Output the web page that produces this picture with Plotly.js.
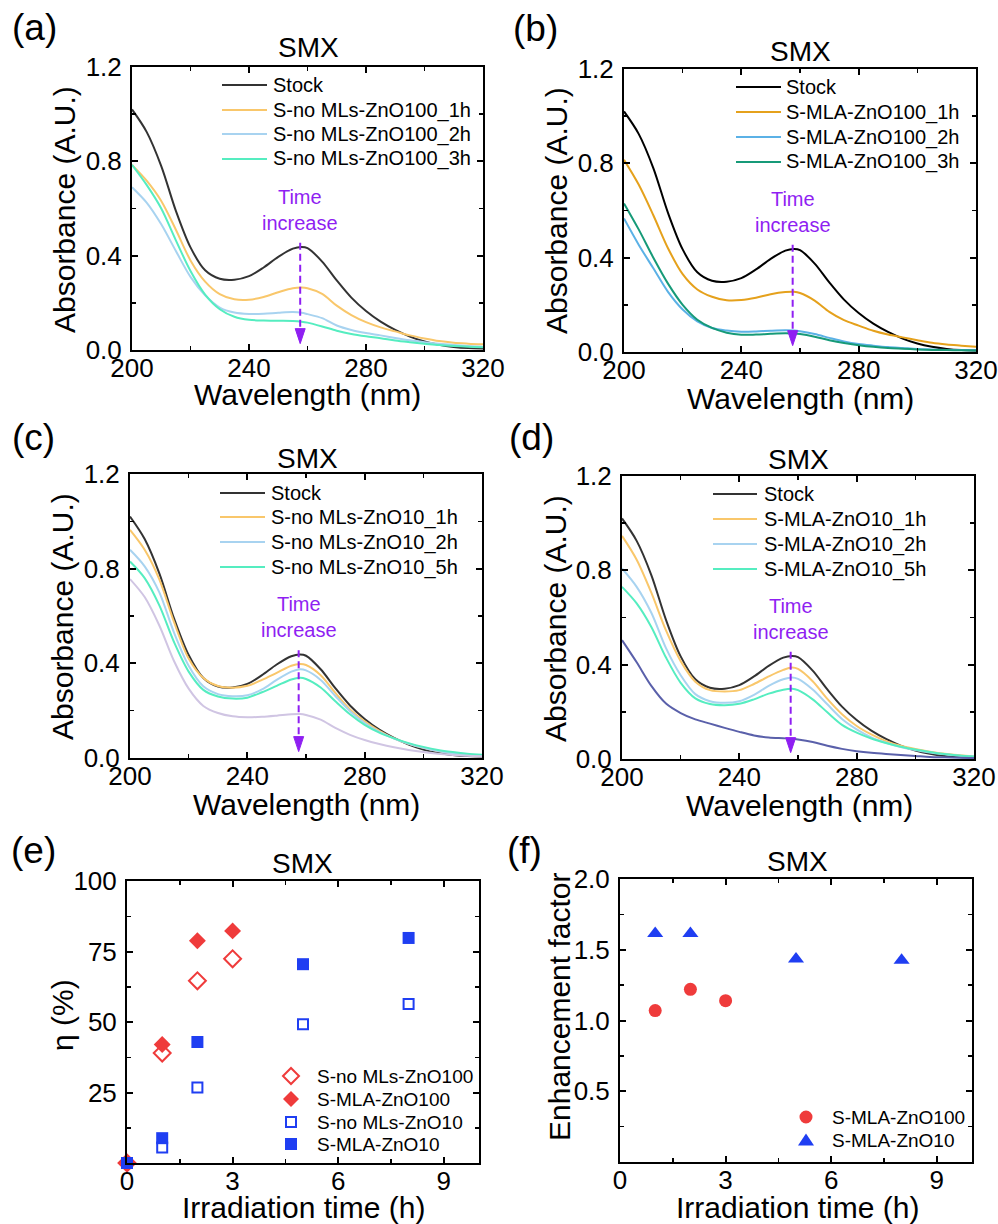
<!DOCTYPE html>
<html>
<head>
<meta charset="utf-8">
<script src="https://cdn.plot.ly/plotly-3.0.1.min.js"></script>
<style>
html,body{margin:0;padding:0;background:#ffffff;}
#chart{width:998px;height:1224px;}
</style>
</head>
<body>
<div id="chart"></div>
<script>
// ---------------- DATA ----------------
const wavelength = [200,205,210,215,220,225,230,235,240,245,250,255,258,260,265,270,275,280,285,290,295,300,305,310,315,320];

const stock = [1.02,0.925,0.78,0.59,0.435,0.338,0.302,0.298,0.313,0.35,0.395,0.43,0.437,0.432,0.375,0.295,0.222,0.165,0.12,0.085,0.057,0.036,0.022,0.013,0.008,0.006];

// (a) S-no MLs-ZnO100
const a1h = [0.785,0.718,0.632,0.51,0.38,0.29,0.237,0.215,0.213,0.225,0.245,0.262,0.265,0.262,0.238,0.188,0.148,0.118,0.096,0.079,0.062,0.049,0.038,0.031,0.027,0.024];
const a2h = [0.69,0.625,0.533,0.42,0.31,0.232,0.18,0.159,0.153,0.154,0.158,0.161,0.158,0.152,0.135,0.104,0.085,0.072,0.062,0.051,0.041,0.033,0.026,0.021,0.017,0.014];
const a3h = [0.785,0.70,0.60,0.465,0.335,0.235,0.173,0.141,0.128,0.125,0.124,0.123,0.12,0.116,0.1,0.082,0.068,0.058,0.05,0.04,0.033,0.027,0.021,0.017,0.014,0.012];

// (b) S-MLA-ZnO100
const b1h = [0.815,0.71,0.58,0.44,0.33,0.265,0.234,0.219,0.22,0.23,0.245,0.254,0.255,0.25,0.218,0.17,0.135,0.112,0.09,0.074,0.062,0.05,0.039,0.032,0.027,0.022];
const b2h = [0.566,0.455,0.355,0.255,0.18,0.13,0.102,0.091,0.086,0.087,0.09,0.092,0.091,0.088,0.076,0.06,0.045,0.034,0.027,0.021,0.017,0.013,0.011,0.009,0.008,0.007];
const b3h = [0.63,0.52,0.40,0.29,0.2,0.137,0.102,0.082,0.073,0.074,0.077,0.079,0.078,0.076,0.065,0.05,0.038,0.029,0.022,0.017,0.014,0.011,0.009,0.008,0.007,0.006];

// (c) S-no MLs-ZnO10
const c1h = [0.964,0.88,0.755,0.575,0.42,0.338,0.304,0.297,0.305,0.33,0.36,0.39,0.397,0.393,0.35,0.275,0.205,0.155,0.115,0.083,0.06,0.043,0.03,0.021,0.015,0.011];
const c2h = [0.88,0.81,0.70,0.53,0.39,0.303,0.27,0.261,0.265,0.29,0.33,0.365,0.375,0.37,0.33,0.262,0.198,0.148,0.11,0.082,0.06,0.043,0.029,0.019,0.012,0.008];
const c5h = [0.83,0.76,0.645,0.49,0.365,0.288,0.26,0.251,0.255,0.278,0.305,0.332,0.339,0.334,0.298,0.24,0.185,0.14,0.107,0.083,0.063,0.047,0.034,0.025,0.018,0.014];
const cExtra = [0.756,0.68,0.56,0.41,0.293,0.22,0.19,0.176,0.172,0.174,0.179,0.185,0.186,0.182,0.162,0.127,0.098,0.076,0.059,0.045,0.034,0.025,0.018,0.013,0.009,0.007];

// (d) S-MLA-ZnO10
const d1h = [0.946,0.845,0.705,0.545,0.415,0.328,0.292,0.286,0.292,0.318,0.35,0.378,0.388,0.382,0.33,0.255,0.19,0.14,0.104,0.076,0.056,0.042,0.031,0.022,0.016,0.011];
const d2h = [0.808,0.73,0.62,0.47,0.355,0.275,0.245,0.238,0.245,0.272,0.31,0.338,0.346,0.34,0.295,0.232,0.17,0.126,0.092,0.069,0.051,0.038,0.028,0.02,0.014,0.011];
const d5h = [0.73,0.66,0.56,0.43,0.323,0.257,0.233,0.228,0.234,0.253,0.277,0.294,0.298,0.292,0.253,0.198,0.145,0.112,0.087,0.068,0.052,0.04,0.03,0.021,0.015,0.011];
const dExtra = [0.504,0.41,0.31,0.235,0.195,0.168,0.15,0.132,0.115,0.1,0.091,0.088,0.086,0.083,0.072,0.056,0.043,0.033,0.026,0.021,0.017,0.013,0.009,0.007,0.005,0.004];

const aNames = ['Stock','S-no MLs-ZnO100_1h','S-no MLs-ZnO100_2h','S-no MLs-ZnO100_3h'];
const bNames = ['Stock','S-MLA-ZnO100_1h','S-MLA-ZnO100_2h','S-MLA-ZnO100_3h'];
const cNames = ['Stock','S-no MLs-ZnO10_1h','S-no MLs-ZnO10_2h','S-no MLs-ZnO10_5h'];
const dNames = ['Stock','S-MLA-ZnO10_1h','S-MLA-ZnO10_2h','S-MLA-ZnO10_5h'];

// (e) removal efficiency
const timeZnO100 = [0,1,2,3];
const timeZnO10 = [0,1,2,5,8];
const etaNoML100 = [0,39.0,64.6,72.4];
const etaMLA100 = [0,42.0,78.8,82.3];
const etaNoML10 = [0,5.5,26.8,49.2,56.4];
const etaMLA10 = [0,8.8,42.9,70.5,79.8];
const eNames = ['S-no MLs-ZnO100','S-MLA-ZnO100','S-no MLs-ZnO10','S-MLA-ZnO10'];

// (f) enhancement factor
const efTime100 = [1,2,3];
const efTime10 = [1,2,5,8];
const ef100 = [1.07,1.22,1.14];
const ef10 = [1.615,1.615,1.435,1.425];
const fNames = ['S-MLA-ZnO100','S-MLA-ZnO10'];

// tick labels
const wlTicks = [200,240,280,320];
const wlMinor = [220,260,300];
const absTicks = [0,0.4,0.8,1.2];
const absTickText = ['0.0','0.4','0.8','1.2'];
const absMinor = [0.2,0.6,1.0];
const timeTicks = [0,3,6,9];
const timeMinor = [1.5,4.5,7.5];
const etaTicks = [25,50,75,100];
const etaMinor = [12.5,37.5,62.5,87.5];
const efTicks = [0.5,1.0,1.5,2.0];
const efTickText = ['0.5','1.0','1.5','2.0'];
const efMinor = [0.25,0.75,1.25,1.75];

// ---------------- STYLE / LAYOUT ----------------
const W = 998, H = 1224;
const PX = x => x / W;
const PY = y => 1 - y / H;
const FONT = 'Liberation Sans, Arial, Helvetica, sans-serif';
const TICKFONT = {family: FONT, size: 26, color: '#000'};
const PURPLE = '#8f1ff2';
const RED = '#ef3b3b';
const BLUE = '#1f3ef2';
const DARK = '#333333';
const colA = [DARK,'#f9c76b','#a8d3f0','#55edc0'];
const colB = ['#000000','#e5a11c','#5bb1e6','#169a78'];
const colC = [DARK,'#f9c76b','#a8d3f0','#55edc0','#d0c5e3'];
const colD = [DARK,'#f9c76b','#a8d3f0','#55edc0','#5a60aa'];

function axisBase(domPx, isY) {
  const d = isY ? [PY(domPx[1]), PY(domPx[0])] : [PX(domPx[0]), PX(domPx[1])];
  return {
    domain: d, showline: true, linewidth: 2, linecolor: '#000', mirror: 'ticks',
    ticks: 'inside', ticklen: 6, tickwidth: 2, tickcolor: '#000',
    showgrid: false, zeroline: false, tickfont: TICKFONT, fixedrange: true,
    ticklabelstandoff: isY ? 3 : -6
  };
}
function withTicks(ax, range, vals, text, minor) {
  ax.range = range; ax.tickmode = 'array'; ax.tickvals = vals;
  if (text) ax.ticktext = text;
  ax.minor = {tickmode: 'array', tickvals: minor, ticks: 'inside', ticklen: 4, tickwidth: 1.5, tickcolor: '#000', showgrid: false};
  return ax;
}

const panels = [
  {id: '', x: [132,483], y: [67,350]},
  {id: '2', x: [624,976], y: [69,352]},
  {id: '3', x: [130,482], y: [474,758]},
  {id: '4', x: [622,974], y: [476,759]},
  {id: '5', x: [127,479], y: [881,1163]},
  {id: '6', x: [620,972], y: [879,1162]}
];

const layout = {
  width: W, height: H, margin: {l: 0, r: 0, t: 0, b: 0},
  paper_bgcolor: '#fff', plot_bgcolor: '#fff', showlegend: false,
  font: {family: FONT, color: '#000'},
  shapes: [], annotations: []
};

panels.forEach((p, i) => {
  const xk = 'xaxis' + p.id, yk = 'yaxis' + p.id;
  const xa = axisBase(p.x, false), ya = axisBase(p.y, true);
  xa.anchor = 'y' + p.id; ya.anchor = 'x' + p.id;
  if (i < 4) {
    withTicks(xa, [200,320], wlTicks, null, wlMinor);
    withTicks(ya, [0,1.2], absTicks, absTickText, absMinor);
  } else if (i === 4) {
    withTicks(xa, [0,10], timeTicks, null, timeMinor);
    withTicks(ya, [0,100], etaTicks, null, etaMinor);
  } else {
    withTicks(xa, [0,10], timeTicks, null, timeMinor);
    withTicks(ya, [0,2], efTicks, efTickText, efMinor);
  }
  layout[xk] = xa; layout[yk] = ya;
});

const traces = [];
function addLines(id, series, colors) {
  series.forEach((s, i) => traces.push({
    type: 'scatter', mode: 'lines', x: wavelength, y: s,
    xaxis: 'x' + id, yaxis: 'y' + id, hoverinfo: 'skip',
    line: {color: colors[i], width: 2, shape: 'spline', smoothing: 0.9}
  }));
}
addLines('', [stock,a1h,a2h,a3h], colA);
addLines('2', [stock,b1h,b2h,b3h], colB);
addLines('3', [stock,c1h,c2h,c5h,cExtra], colC);
addLines('4', [stock,d1h,d2h,d5h,dExtra], colD);

function addPts(id, x, y, symbol, color, size, open) {
  traces.push({
    type: 'scatter', mode: 'markers', x: x, y: y, xaxis: 'x' + id, yaxis: 'y' + id,
    cliponaxis: false, hoverinfo: 'skip',
    marker: {symbol: symbol, size: size, color: open ? 'rgba(0,0,0,0)' : color,
             line: {color: color, width: open ? 2 : 0}}
  });
}
addPts('5', timeZnO100, etaNoML100, 'diamond', RED, 13, true);
addPts('5', timeZnO100, etaMLA100, 'diamond', RED, 13, false);
addPts('5', timeZnO10, etaNoML10, 'square', BLUE, 10, true);
addPts('5', timeZnO10, etaMLA10, 'square', BLUE, 12, false);
addPts('6', efTime100, ef100, 'circle', RED, 13, false);
addPts('6', efTime10, ef10, 'triangle-up', BLUE, 14, false);

// ---------- text helpers ----------
function txt(text, xpx, ypx, size, opts) {
  layout.annotations.push(Object.assign({
    text: text, xref: 'paper', yref: 'paper', x: PX(xpx), y: PY(ypx),
    xanchor: 'center', yanchor: 'middle', showarrow: false,
    font: {family: FONT, size: size, color: '#000'}
  }, opts || {}));
}

// panel labels
[['(a)',10,27],['(b)',511,28],['(c)',10,437],['(d)',507,437],['(e)',9,850],['(f)',505,850]]
  .forEach(l => txt(l[0], l[1], l[2], 37, {xanchor: 'left'}));
// SMX titles
[[308,48],[800,52],[307,458],[798,459],[302,863],[797,861]].forEach(t => txt('SMX', t[0], t[1], 28));
// axis titles
[[307,395],[800,399],[306,804],[799,805]].forEach(t => txt('Wavelength (nm)', t[0], t[1], 30));
[[64,209],[556,211],[62,617],[555,619]].forEach(t => txt('Absorbance (A.U.)', t[0], t[1], 30, {textangle: -90}));
txt('Irradiation time (h)', 303, 1207, 30);
txt('Irradiation time (h)', 797, 1207, 30);
txt('η (%)', 62, 1015, 30, {textangle: -90});
txt('Enhancement factor', 559, 1007, 30, {textangle: -90});

// "Time increase" arrow in spectra panels
['', '2', '3', '4'].forEach(id => {
  layout.annotations.push({
    text: 'Time<br>increase', xref: 'x' + id, yref: 'y' + id, x: 257.5, y: 0.595,
    xanchor: 'center', yanchor: 'middle', showarrow: false,
    font: {family: FONT, size: 20, color: PURPLE}
  });
  layout.shapes.push({
    type: 'line', xref: 'x' + id, yref: 'y' + id, x0: 257.5, x1: 257.5, y0: 0.455, y1: 0.07,
    line: {color: PURPLE, width: 2, dash: '7px,4px'}
  });
  layout.shapes.push({
    type: 'path', xref: 'x' + id, yref: 'y' + id, xsizemode: 'pixel', ysizemode: 'pixel',
    xanchor: 257.5, yanchor: 0.027, path: 'M-5,15L5,15L0,0Z',
    fillcolor: PURPLE, line: {color: PURPLE, width: 1}
  });
});

// line legends
function lineLegend(names, colors, x0, x1, tx, rows) {
  names.forEach((n, i) => {
    layout.shapes.push({type: 'line', xref: 'paper', yref: 'paper',
      x0: PX(x0), x1: PX(x1), y0: PY(rows[i]), y1: PY(rows[i]),
      line: {color: colors[i], width: 2}});
    txt(n, tx, rows[i], 20, {xanchor: 'left'});
  });
}
lineLegend(aNames, colA, 222, 267, 271, [85,110,134,159]);
lineLegend(bNames, colB, 736, 781, 784, [87,112,137,162]);
lineLegend(cNames, colC, 220, 265, 269, [493,517,542,567]);
lineLegend(dNames, colD, 713, 757, 762, [494,519,544,569]);

// marker legends
function mk(path, xpx, ypx, color, open) {
  layout.shapes.push({type: 'path', xref: 'paper', yref: 'paper', xsizemode: 'pixel', ysizemode: 'pixel',
    xanchor: PX(xpx), yanchor: PY(ypx), path: path,
    fillcolor: open ? 'rgba(0,0,0,0)' : color, line: {color: color, width: open ? 2 : 0}});
}
function mkCircle(xpx, ypx, r, color) {
  layout.shapes.push({type: 'circle', xref: 'paper', yref: 'paper', xsizemode: 'pixel', ysizemode: 'pixel',
    xanchor: PX(xpx), yanchor: PY(ypx), x0: -r, x1: r, y0: -r, y1: r,
    fillcolor: color, line: {color: color, width: 0}});
}
const DIA = 'M-8,0L0,8L8,0L0,-8Z', SQO = 'M-5,-5H5V5H-5Z', SQF = 'M-6,-6H6V6H-6Z';
const TRI = 'M-8,-5.5L8,-5.5L0,6.5Z';
const eRows = [1076,1099,1122,1144];
mk(DIA, 291, eRows[0], RED, true);
mk(DIA, 291, eRows[1], RED, false);
mk(SQO, 291, eRows[2], BLUE, true);
mk(SQF, 291, eRows[3], BLUE, false);
eNames.forEach((n, i) => txt(n, 315, eRows[i], 19, {xanchor: 'left'}));
const fRows = [1117,1140];
mkCircle(806, fRows[0], 6.5, RED);
mk(TRI, 806, fRows[1], BLUE, false);
fNames.forEach((n, i) => txt(n, 830, fRows[i], 19, {xanchor: 'left'}));

Plotly.newPlot('chart', traces, layout, {staticPlot: true, displayModeBar: false});
</script>
</body>
</html>
